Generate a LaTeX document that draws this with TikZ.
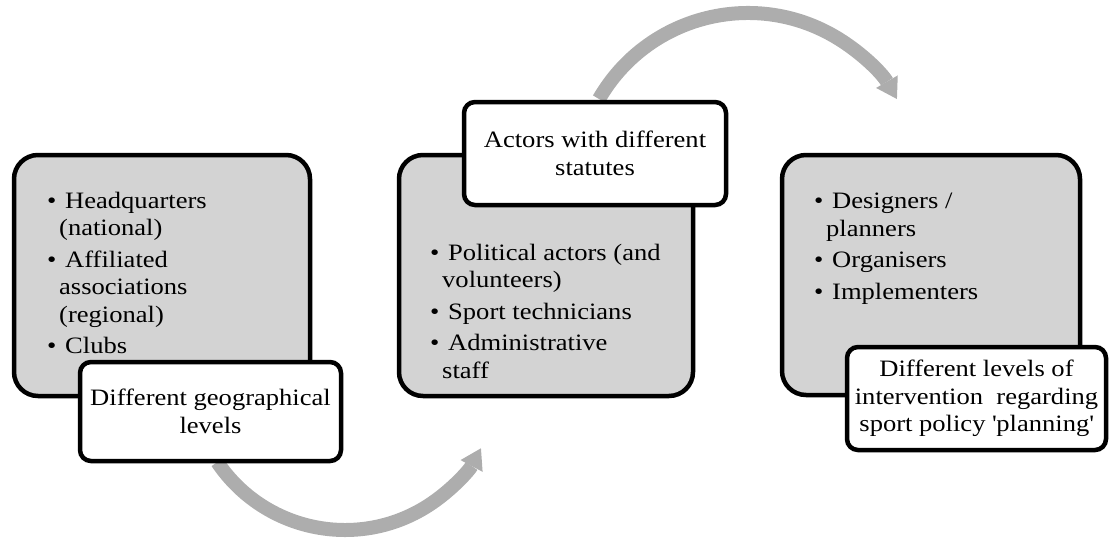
\documentclass[tikz,border=0pt]{standalone}
\usepackage{fontspec}
\setmainfont{Liberation Serif}[FakeStretch=1.13]
\usetikzlibrary{arrows.meta}
\definecolor{boxgray}{HTML}{D3D3D3}
\definecolor{arrowgray}{HTML}{ADADAD}
\newcommand\boxfont{\fontsize{23.5}{27.5}\selectfont}
\newcommand\bul{\makebox[18pt][l]{•}}
\newcommand\cont{\hspace*{12pt}}
\begin{document}
\begin{tikzpicture}[x=1pt,y=1pt,
  graybox/.style={draw=black, line width=4.5pt, fill=boxgray, rounded corners=24pt, inner sep=0pt},
  whitebox/.style={draw=black, line width=4.5pt, fill=white, rounded corners=11pt, inner sep=0pt, align=center, font=\boxfont},
  listtext/.style={inner sep=0pt, align=left, font=\boxfont},
  bigarrow/.style={draw=arrowgray, line width=14pt, -{Triangle[width=25pt,length=20pt,line width=0pt]}}]
\useasboundingbox (0,0) rectangle (1110,-539);

% arrows (drawn first, boxes cover their start)
\coordinate (b1) at (217.3,-462.1);
\draw[bigarrow] (b1) arc[start angle=214, end angle=332, radius=154];
\coordinate (t1) at (599,-99);
\draw[bigarrow] (t1) arc[start angle=150, end angle=30, radius=172];

% gray boxes
\node[graybox, minimum width=296pt, minimum height=241pt] (g1) at (162,-275.5) {};
\node[graybox, minimum width=294pt, minimum height=241pt] (g2) at (546,-275.5) {};
\node[graybox, minimum width=298pt, minimum height=240pt] (g3) at (931,-275) {};

% lists (anchored at the baseline of their last line)
\node[listtext, anchor=base west] (l1) at (47,-353.5)
  {\bul Headquarters\\\cont(national)\\[4pt]\bul Affiliated\\\cont associations\\\cont(regional)\\[4pt]\bul Clubs};
\node[listtext, anchor=base west] (l2) at (430,-378)
  {\bul Political actors (and\\\cont volunteers)\\[4pt]\bul Sport technicians\\[4pt]\bul Administrative\\\cont staff};
\node[listtext, anchor=base west] (l3) at (814,-299)
  {\bul Designers /\\\cont planners\\[4pt]\bul Organisers\\[4pt]\bul Implementers};

% white boxes
\node[whitebox, minimum width=261pt, minimum height=99pt] (w1) at (210.5,-411.5) {Different geographical\\levels};
\node[whitebox, minimum width=262pt, minimum height=103pt] (w2) at (595,-153.5) {Actors with different\\statutes};
\node[whitebox, minimum width=259pt, minimum height=103pt] (w3) at (976.5,-398.5) {Different levels of\\intervention\ \ regarding\\sport policy \textquotesingle planning\textquotesingle};
\end{tikzpicture}
\end{document}
